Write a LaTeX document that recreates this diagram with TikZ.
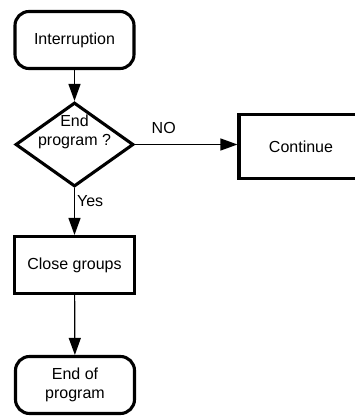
\documentclass[tikz,border=0pt]{standalone}
\usepackage{fontspec}
\setmainfont{Liberation Sans}
\usetikzlibrary{shapes.geometric,arrows.meta}
\begin{document}
\begin{tikzpicture}[x=1pt,y=-1pt,
  lbl/.style={font=\fontsize{16}{19}\selectfont, inner sep=0pt},
  term/.style={draw, line width=3.1pt, rounded corners=14pt, minimum width=119pt, minimum height=57pt, align=center, lbl},
  procbox/.style={draw, line width=3.1pt, minimum width=120pt, minimum height=57pt, align=center, lbl},
  decision/.style={diamond, draw, line width=3.1pt, minimum width=118pt, minimum height=84pt, inner sep=0pt},
  txt/.style={align=center, lbl},
  arr/.style={-{Triangle[length=17pt,width=12pt]}, line width=1.2pt}
]
\useasboundingbox (0,0) rectangle (355,416);
\node[term] (int) at (74.5,40) {Interruption};
\node[decision] (dec) at (74.5,144.5) {};
\node[txt] (dectext) at (74.5,132) {End\\program ?};
\node[procbox, minimum width=124pt, minimum height=64pt] (cont) at (301,146.5) {Continue};
\node[procbox] (close) at (74.5,265) {Close groups};
\node[term] (end) at (75,385) {End of\\program};
\draw[arr] (int) -- (dec);
\draw[arr] (dec.east) -- node[lbl, pos=0.28, yshift=17pt] {NO} (dec.east -| cont.west);
\draw[arr] (dec) -- node[lbl, pos=0.28, anchor=west, xshift=2pt] {Yes} (close);
\draw[arr] (close) -- (end);
\end{tikzpicture}
\end{document}
